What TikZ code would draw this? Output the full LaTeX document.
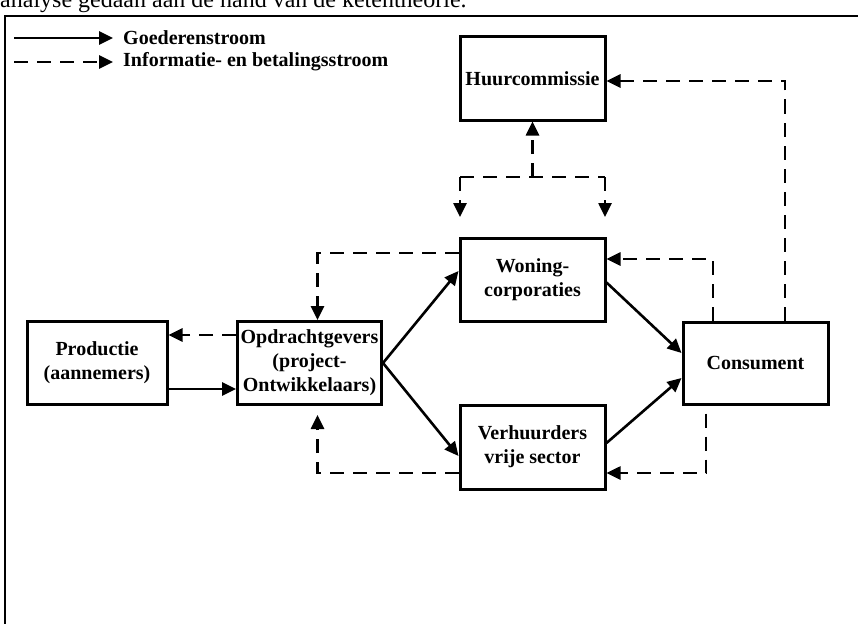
\documentclass[tikz,border=0pt]{standalone}
\usepackage{fontspec}
\setmainfont{Liberation Serif}
\usetikzlibrary{arrows.meta,calc}
\begin{document}
\begin{tikzpicture}[x=1pt,y=-1pt,
  box/.style={draw,line width=3pt,inner sep=0pt,align=center,
    font=\fontsize{20}{24}\selectfont\bfseries},
  flow/.style={line width=2.6pt,-{Triangle[length=14pt,width=13pt]}},
  info/.style={flow,dash pattern=on 14pt off 9pt},
  infoline/.style={line width=2.6pt,dash pattern=on 14pt off 9pt},
  lbl/.style={font=\fontsize{20}{24}\selectfont\bfseries,anchor=west,inner sep=0pt}]
\useasboundingbox (0,0) rectangle (858,623);
\clip (0,0) rectangle (858,623);

% heading text and frame
\node[anchor=base west,inner sep=0pt,font=\fontsize{24}{28}\selectfont]
  (title) at (0,8) {analyse gedaan aan de hand van de ketentheorie.};
\draw[line width=2pt] (5,700) -- (5,16.5) -- (900,16.5);

% legend
\coordinate (l1a) at (14,38);  \coordinate (l1b) at (113,38);
\coordinate (l2a) at (14,62);  \coordinate (l2b) at (113,62);
\draw[flow] (l1a) -- (l1b);
\draw[info] (l2a) -- (l2b);
\node[lbl] (lg1) at (123,38) {Goederenstroom};
\node[lbl] (lg2) at (123,62) {Informatie- en betalingsstroom};

% boxes
\node[box,minimum width=145pt,minimum height=83pt] (huur) at (532.5,78.5) {Huurcommissie};
\node[box,minimum width=145pt,minimum height=83pt] (won) at (532.5,279.5) {Woning-\\corporaties};
\node[box,minimum width=145pt,minimum height=84pt] (verh) at (532.5,447) {Verhuurders\\vrije sector};
\node[box,minimum width=145pt,minimum height=82pt] (cons) at (755.5,363) {Consument};
\node[box,minimum width=140pt,minimum height=83pt] (prod) at (97,363) {Productie\\(aannemers)};
\node[box,minimum width=144pt,minimum height=83pt] (opdr) at (309.5,363) {Opdrachtgevers\\(project-\\Ontwikkelaars)};

% flow of goods
\draw[flow] ([yshift=-26pt]prod.east) -- ([yshift=-26pt]opdr.west);
\draw[flow] (opdr.east) -- ([yshift=8.5pt]won.west);
\draw[flow] (opdr.east) -- ([yshift=-9pt]verh.west);
\draw[flow] ([yshift=-3pt]won.east) -- ([yshift=10pt]cons.west);
\draw[flow] ([yshift=4pt]verh.east) -- ([yshift=-15pt]cons.west);

% information and payment flows
\draw[info] ([yshift=28pt]opdr.west) -- ([yshift=28pt]prod.east);
\draw[info] ([yshift=26.5pt]won.west) -| ([xshift=8pt]opdr.north);
\draw[info,shorten >=9pt] ([yshift=-26pt]verh.west) -| ([xshift=8pt]opdr.south);
\draw[info] ([xshift=-42.5pt]cons.north) |- ([yshift=20.5pt]won.east);
\draw[info] ([xshift=29.5pt]cons.north) |- ([yshift=-2.5pt]huur.east);
\draw[info,shorten <=8pt] ([xshift=-49.5pt]cons.south) |- ([yshift=-26pt]verh.east);

% rent committee branch
\coordinate (hm) at (532.5,177);
\coordinate (hl) at (460,177);
\coordinate (hr) at (605,177);
\coordinate (dl) at (460,217);
\coordinate (dr) at (605,217);
\draw[infoline] (hl) -- (hr);
\draw[info] (hm) -- (huur.south);
\draw[info] (hl) -- (dl);
\draw[info] (hr) -- (dr);
\end{tikzpicture}
\end{document}
